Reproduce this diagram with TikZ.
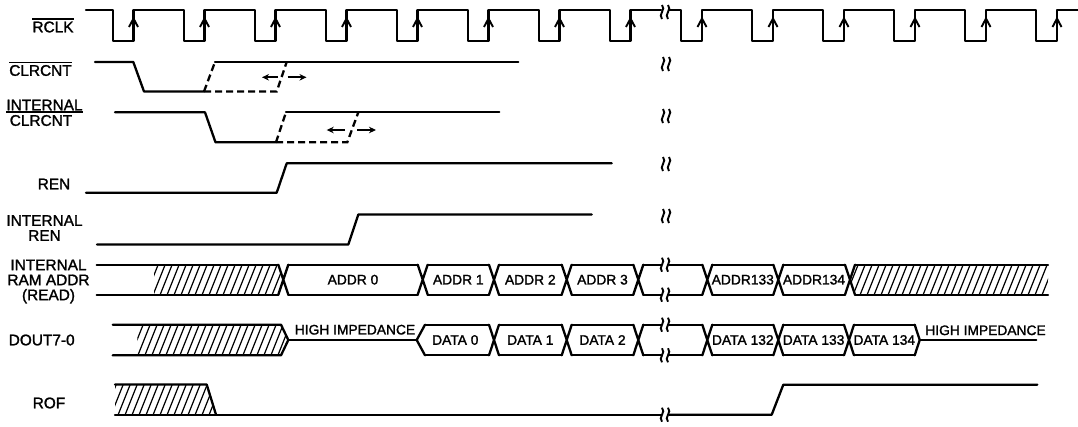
\documentclass[tikz,border=0pt]{standalone}
\usepackage{fontspec}
\setmainfont{Liberation Sans}[FakeBold=1.5]
\usetikzlibrary{arrows.meta}
\newcommand\brkmark[2]{%
  \draw[brkm] (#1-3,#2-7) .. controls (#1+1.5,#2-2.5) and (#1-7.5,#2+2.5) .. (#1-3,#2+7);
  \draw[brkm] (#1+3,#2-7) .. controls (#1+7.5,#2-2.5) and (#1-1.5,#2+2.5) .. (#1+3,#2+7);}
\newcommand\xing[3]{\draw[sig] (#1-5,#2)--(#1+5,#3) (#1-5,#3)--(#1+5,#2);}
\newcommand\bseg[4]{\draw[sig] (#1,#3)--(#2,#3) (#1,#4)--(#2,#4);}
\begin{document}
\begin{tikzpicture}[x=1pt,y=-1pt,
  sig/.style={line width=2.3pt, line cap=round, line join=round},
  dsig/.style={line width=2.3pt, dash pattern=on 7pt off 4pt},
  hatchln/.style={line width=1.2pt},
  brkm/.style={line width=1.9pt},
  lbl/.style={font=\fontsize{15.4}{15}\selectfont, inner sep=0pt, align=center},
  bus/.style={font=\fontsize{13.8}{14}\selectfont, inner sep=0pt},
  ovl/.style={line width=1.5pt},
  tarrow/.style={line width=1.8pt, -{Stealth[length=7pt,width=6.5pt]}},
  chev/.style={line width=1.9pt, line join=miter}]
\useasboundingbox (0,0) rectangle (1078,426);
% ---------- labels
\node[lbl] (lrclk) at (53,27) {RCLK};
\draw[ovl] ([yshift=2.5pt]lrclk.north west) -- ([yshift=2.5pt]lrclk.north east);
\node[lbl] (lclr) at (40.5,70.5) {CLRCNT};
\draw[ovl] ([yshift=2.5pt]lclr.north west) -- ([yshift=2.5pt]lclr.north east);
\node[lbl] (licA) at (44.5,105) {INTERNAL};
\node[lbl] (licB) at (41,120.5) {CLRCNT};
\draw[ovl] ([yshift=-1.7pt]licA.south west) -- ([yshift=-1.7pt]licA.south east);
\node[lbl] (lren) at (54,184) {REN};
\node[lbl] (lire) at (44.5,228) {INTERNAL\\REN};
\node[lbl] (lram) at (48.5,281.5) {INTERNAL\\RAM ADDR\\(READ)};
\node[lbl] (ldout) at (41.7,340) {DOUT7-0};
\node[lbl] (lrof) at (49,403) {ROF};
% ---------- RCLK
\draw[sig] (86,10) foreach \r in {133.5,204.5,275.5,346.5,417.5,488.5,559.5,630.5} {-- (\r-20.5,10) -- (\r-20.5,40.7) -- (\r,40.7) -- (\r,10)} -- (661,10);
\draw[sig] (669,10) foreach \f in {681,752,823,894,965,1036} {-- (\f,10) -- (\f,40.7) -- (\f+21,40.7) -- (\f+21,10)} -- (1078,10);
\foreach \r in {133.5,204.5,275.5,346.5,417.5,488.5,559.5,630.5,702,773,844,915,986,1057}
  \draw[chev] (\r-4.5,27) -- (\r,18.5) -- (\r+4.5,27);
\brkmark{665}{12}
% ---------- CLRCNT
\draw[sig] (95,62) -- (133.3,62) -- (144,91.5) -- (204,91.5);
\draw[dsig] (204,91.5) -- (215,62);
\draw[dsig] (204,91.5) -- (276.7,91.5) -- (286.7,62);
\draw[sig] (215,62) -- (518.3,62);
\draw[tarrow] (278,77.3) -- (262,77.3);
\draw[tarrow] (287.5,77.3) -- (306.5,77.3);
\brkmark{666}{64}
% ---------- INTERNAL CLRCNT
\draw[sig] (115,112.3) -- (205,112.3) -- (215.5,142.3) -- (276,142.3);
\draw[dsig] (276,142.3) -- (286,112.3);
\draw[dsig] (276,142.3) -- (347.3,142.3) -- (358.3,112.3);
\draw[sig] (286,112.3) -- (499.3,112.3);
\draw[tarrow] (345,130) -- (326.7,130);
\draw[tarrow] (357.3,130) -- (376,130);
\brkmark{666}{116}
% ---------- REN
\draw[sig] (86,192.7) -- (276.7,192.7) -- (286.7,163.3) -- (611.7,163.3);
\brkmark{666}{164}
% ---------- INTERNAL REN
\draw[sig] (97,244.5) -- (348.3,244.5) -- (358.3,214.5) -- (591.7,214.5);
\brkmark{666}{216}
% ---------- INTERNAL RAM ADDR
\begin{scope}
\clip (154,264.7) -- (278.3,264.7) -- (283.3,279.7) -- (278.3,294.7) -- (154,294.7) -- cycle;
\foreach \x in {130,137,...,290} \draw[hatchln] (\x,300) -- ++(16,-40);
\end{scope}
\begin{scope}
\clip (850,279.7) -- (855,264.7) -- (1048,264.7) -- (1048,294.7) -- (855,294.7) -- cycle;
\foreach \x in {830,837,...,1050} \draw[hatchln] (\x,300) -- ++(16,-40);
\end{scope}
\bseg{96.7}{278.3}{264.7}{294.7}
\xing{283.3}{264.7}{294.7}
\bseg{288.3}{417.7}{264.7}{294.7}
\xing{422.7}{264.7}{294.7}
\bseg{427.7}{489}{264.7}{294.7}
\xing{494}{264.7}{294.7}
\bseg{499}{561.7}{264.7}{294.7}
\xing{566.7}{264.7}{294.7}
\bseg{571.7}{633.3}{264.7}{294.7}
\xing{638.3}{264.7}{294.7}
\bseg{643.3}{661}{264.7}{294.7}
\bseg{669}{702.3}{264.7}{294.7}
\brkmark{665}{264.7}
\brkmark{665}{294.7}
\xing{707.3}{264.7}{294.7}
\bseg{712.3}{773.3}{264.7}{294.7}
\xing{778.3}{264.7}{294.7}
\bseg{783.3}{845}{264.7}{294.7}
\xing{850}{264.7}{294.7}
\bseg{855}{1048}{264.7}{294.7}
\node[bus] (a0) at (353,279.7) {ADDR 0};
\node[bus] (a1) at (458.3,279.7) {ADDR 1};
\node[bus] (a2) at (530.3,279.7) {ADDR 2};
\node[bus] (a3) at (602.5,279.7) {ADDR 3};
\node[bus] (a133) at (742.8,279.7) {ADDR133};
\node[bus] (a134) at (814,279.7) {ADDR134};
% ---------- DOUT7-0
\begin{scope}
\clip (137.3,324.7) -- (281,324.7) -- (288.3,340) -- (281,355.3) -- (137.3,355.3) -- cycle;
\foreach \x in {115,122,...,295} \draw[hatchln] (\x,360) -- ++(16,-40);
\end{scope}
\draw[sig] (112.7,324.7) -- (281,324.7) -- (288.3,340) -- (281,355.3) -- (112.7,355.3);
\draw[sig] (288.3,340) -- (416.7,340);
\draw[sig] (425,324.7) -- (416.7,340) -- (425,355.3);
\bseg{425}{489}{324.7}{355.3}
\xing{494}{324.7}{355.3}
\bseg{499}{561.7}{324.7}{355.3}
\xing{566.7}{324.7}{355.3}
\bseg{571.7}{633.3}{324.7}{355.3}
\xing{638.3}{324.7}{355.3}
\bseg{643.3}{661}{324.7}{355.3}
\bseg{669}{702.3}{324.7}{355.3}
\brkmark{665}{324.7}
\brkmark{665}{355.3}
\xing{707.3}{324.7}{355.3}
\bseg{712.3}{773.3}{324.7}{355.3}
\xing{778.3}{324.7}{355.3}
\bseg{783.3}{844}{324.7}{355.3}
\xing{849}{324.7}{355.3}
\bseg{854}{914.7}{324.7}{355.3}
\draw[sig] (914.7,324.7) -- (919.7,340) -- (914.7,355.3);
\draw[sig] (919.7,340) -- (1036.3,340);
\node[bus] (hz1) at (355,329.7) {HIGH IMPEDANCE};
\node[bus] (d0) at (455.3,340) {DATA 0};
\node[bus] (d1) at (530.3,340) {DATA 1};
\node[bus] (d2) at (602.5,340) {DATA 2};
\node[bus] (d132) at (742.8,340) {DATA 132};
\node[bus] (d133) at (813.6,340) {DATA 133};
\node[bus] (d134) at (884.3,340) {DATA 134};
\node[bus] (hz2) at (985.5,330.3) {HIGH IMPEDANCE};
% ---------- ROF
\begin{scope}
\clip (115,384.5) -- (206.7,384.5) -- (216,414.7) -- (115,414.7) -- cycle;
\foreach \x in {95,102,...,225} \draw[hatchln] (\x,420) -- ++(16,-40);
\end{scope}
\draw[sig] (115,384.5) -- (206.7,384.5) -- (216,414.7);
\draw[sig] (115,414.7) -- (661,414.7);
\brkmark{665}{414.7}
\draw[sig] (669,414.7) -- (771.7,414.7) -- (783.3,384.7) -- (1037.3,384.7);
\end{tikzpicture}
\end{document}
